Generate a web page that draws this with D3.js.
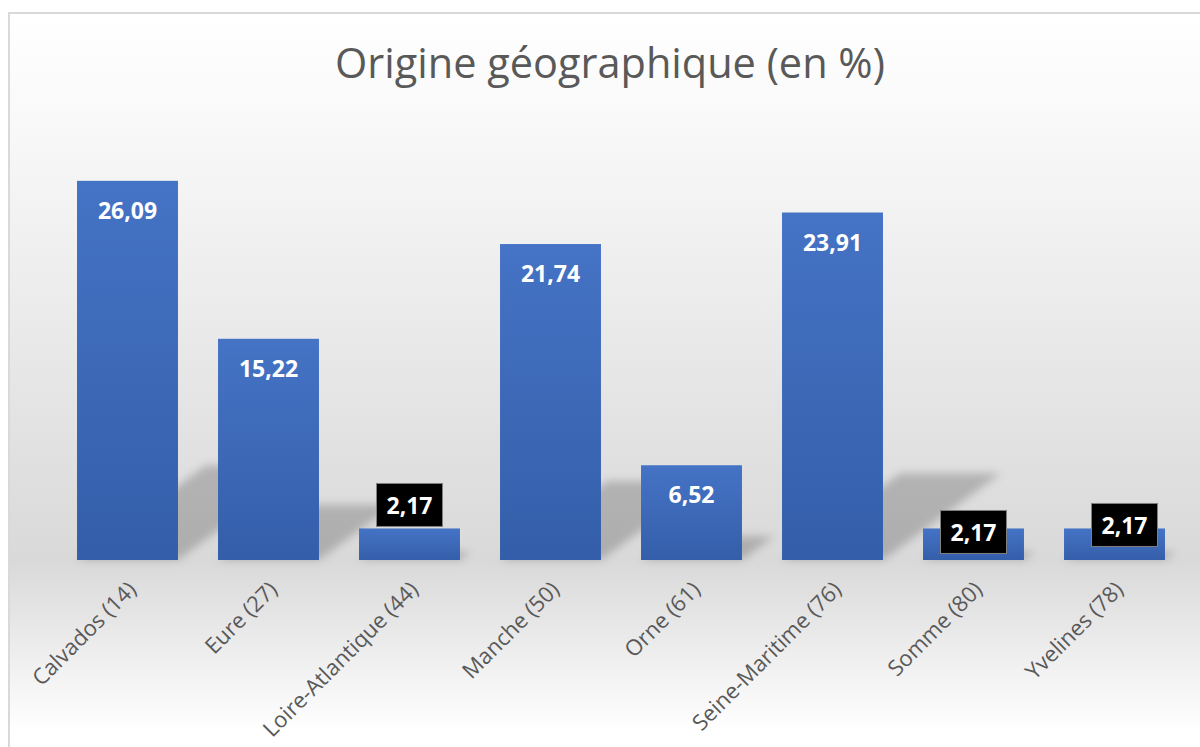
<!DOCTYPE html>
<html>
<head>
<meta charset="utf-8">
<style>
  body { margin: 0; background: #fff; }
  svg { display: block; font-family: 'Open Sans', sans-serif; }
</style>
</head>
<body>
<svg width="1200" height="747"></svg>

<script src="https://d3js.org/d3.v7.min.js"></script>
<script>
    // data
    const departements = ["Calvados (14)", "Eure (27)", "Loire-Atlantique (44)", "Manche (50)",
        "Orne (61)", "Seine-Maritime (76)", "Somme (80)", "Yvelines (78)"];
    const pourcentages = [26.09, 15.22, 2.17, 21.74, 6.52, 23.91, 2.17, 2.17];
    const titre = "Origine géographique (en %)";

    // small values get a black label box, dragged by hand in the original
    const boxed = [false, false, true, false, false, false, true, true];
    const boxNudge = [null, null, [0, -45], null, null, null, [0, -18], [10, -25]];

    const svg = d3.select("svg");
    const baseY = 560;

    const fr = d3.formatLocale({ decimal: ",", thousands: " ", grouping: [3], currency: ["", " €"] });
    const fmt = fr.format(".2f");

    const x = d3.scaleBand()
        .domain(departements)
        .range([57, 1185])
        .paddingInner(0.284)
        .paddingOuter(0.142);

    const y = d3.scaleLinear()
        .domain([0, 30])
        .range([baseY, 124]);

    const defs = svg.append("defs");

    let bg = defs.append("linearGradient")
        .attr("id", "bg").attr("x1", 0).attr("y1", 0).attr("x2", 0).attr("y2", 1);
    bg.append("stop").attr("offset", "0%").attr("stop-color", "#ffffff");
    bg.append("stop").attr("offset", "12%").attr("stop-color", "#fafafa");
    bg.append("stop").attr("offset", "74%").attr("stop-color", "#d9d9d9");
    bg.append("stop").attr("offset", "97%").attr("stop-color", "#ffffff");

    let barGrad = defs.append("linearGradient")
        .attr("id", "bar").attr("x1", 0).attr("y1", 0).attr("x2", 0).attr("y2", 1);
    barGrad.append("stop").attr("offset", "0%").attr("stop-color", "#4573c5");
    barGrad.append("stop").attr("offset", "100%").attr("stop-color", "#345ea9");

    defs.append("filter")
        .attr("id", "blur")
        .attr("x", "-20%").attr("y", "-20%").attr("width", "140%").attr("height", "140%")
        .append("feGaussianBlur").attr("stdDeviation", 4);

    // chart area
    svg.append("rect")
        .attr("x", 9).attr("y", 13)
        .attr("width", 1200).attr("height", 740)
        .attr("fill", "url(#bg)")
        .attr("stroke", "#d9d9d9")
        .attr("stroke-width", 2);

    // title, sized to the width it has in the original
    let t = svg.append("text")
        .attr("x", 610)
        .attr("y", 78)
        .attr("text-anchor", "middle")
        .attr("fill", "#595959")
        .attr("font-size", 38)
        .text(titre);
    let tw = t.node().getComputedTextLength();
    t.attr("font-size", Math.min(42, 38 * 550 / tw));

    const data = departements.map((d, i) => ({ name: d, value: pourcentages[i], boxed: boxed[i], nudge: boxNudge[i] }));

    // perspective shadow (diagonal, upper right)
    svg.append("g")
        .attr("filter", "url(#blur)")
        .selectAll("path")
        .data(data)
        .join("path")
        .attr("fill", "#000")
        .attr("fill-opacity", 0.2)
        .attr("d", d => {
            let h = baseY - y(d.value);
            let x0 = x(d.name), x1 = x0 + x.bandwidth();
            let sh = h * 0.25, dx = h * 0.34;
            return `M${x0},${baseY}L${x1},${baseY}L${x1 + dx},${baseY - sh}L${x0 + dx},${baseY - sh}Z`;
        });

    // bars
    svg.append("g")
        .selectAll("rect")
        .data(data)
        .join("rect")
        .attr("x", d => x(d.name))
        .attr("y", d => y(d.value))
        .attr("width", x.bandwidth())
        .attr("height", d => baseY - y(d.value))
        .attr("fill", "url(#bar)");

    // labels inside the bars
    svg.append("g")
        .selectAll("text")
        .data(data.filter(d => !d.boxed))
        .join("text")
        .attr("x", d => x(d.name) + x.bandwidth() / 2)
        .attr("y", d => y(d.value) + 38)
        .attr("text-anchor", "middle")
        .attr("fill", "#fff")
        .attr("font-weight", "bold")
        .attr("font-size", 23)
        .text(d => fmt(d.value));

    // boxed labels
    let boxes = svg.append("g")
        .selectAll("g")
        .data(data.filter(d => d.boxed))
        .join("g")
        .attr("transform", d => `translate(${x(d.name) + x.bandwidth() / 2 + d.nudge[0]},${y(d.value) + d.nudge[1]})`);

    boxes.append("rect")
        .attr("x", -33)
        .attr("y", 0)
        .attr("width", 66)
        .attr("height", 43)
        .attr("fill", "#000")
        .attr("stroke", "#808080")
        .attr("stroke-width", 1);

    boxes.append("text")
        .attr("y", 31)
        .attr("text-anchor", "middle")
        .attr("fill", "#fff")
        .attr("font-weight", "bold")
        .attr("font-size", 23)
        .text(d => fmt(d.value));

    // category axis
    let xAxis = svg.append("g")
        .attr("transform", `translate(0,${baseY})`)
        .call(d3.axisBottom(x).tickSize(0));

    xAxis.select(".domain").remove();
    xAxis.attr("font-family", null).attr("font-size", null);
    xAxis.selectAll("text")
        .attr("x", 0)
        .attr("y", 0)
        .attr("dy", 0)
        .attr("transform", "translate(10,31) rotate(-45)")
        .style("text-anchor", "end")
        .attr("fill", "#595959")
        .style("font-size", "22px");
</script>
</body>
</html>
